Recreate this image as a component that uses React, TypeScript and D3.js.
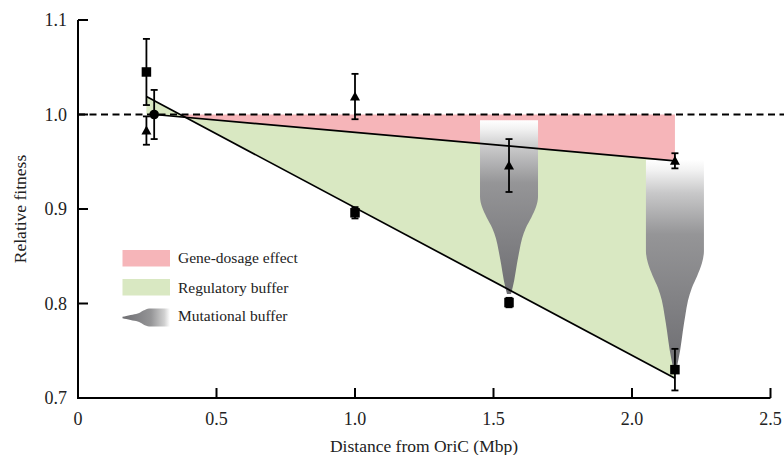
import React from "react";
import * as d3 from "d3";

// ---- data ----
const squareX = [0.247, 1.0, 1.556, 2.155];
const squareY = [1.045, 0.896, 0.801, 0.73];
const squareErr = [0.035, 0.006, 0.005, 0.022];

const triangleX = [0.247, 1.0, 1.556, 2.155];
const triangleY = [0.983, 1.019, 0.946, 0.951];
const triangleErr = [0.015, 0.024, 0.028, 0.008];

const circleX = [0.275];
const circleY = [1.0];
const circleErr = [0.026];

// fitted lines: [x0, y0, x1, y1]
const upperLine = [0.275, 1.0, 2.155, 0.951];
const lowerLine = [0.247, 1.019, 2.155, 0.721];

// mutational buffer "violins": center x, top value, bottom value
const violinX = [1.556, 2.155];
const violinTop = [0.994, 0.952];
const violinBottom = [0.81, 0.733];

const xTicks = [0, 0.5, 1.0, 1.5, 2.0, 2.5];
const xTickLabels = ["0", "0.5", "1.0", "1.5", "2.0", "2.5"];
const yTicks = [0.7, 0.8, 0.9, 1.0, 1.1];
const yTickLabels = ["0.7", "0.8", "0.9", "1.0", "1.1"];

const legendLabels = ["Gene-dosage effect", "Regulatory buffer", "Mutational buffer"];

const PINK = "#f6b5b9";
const GREEN = "#d9e8c2";
const FONT = "'Liberation Serif', 'DejaVu Serif', serif";

// violin profile: [fraction along height, half-width fraction]
const profile: [number, number][] = [
  [0, 1], [0.44, 1], [0.5, 0.93], [0.56, 0.77], [0.62, 0.58], [0.68, 0.45],
  [0.75, 0.36], [0.83, 0.27], [0.92, 0.18], [1, 0.07],
];

export default function App() {
  const W = 784, H = 455;
  const x = d3.scaleLinear().domain([0, 2.5]).range([78, 770.5]);
  const y = d3.scaleLinear().domain([0.7, 1.1]).range([398, 20]);

  const halfW = 29;

  const violinPath = (i: number) => {
    const cx = x(violinX[i]);
    const y0 = y(violinTop[i]);
    const y1 = y(violinBottom[i]);
    const area = d3
      .area<[number, number]>()
      .y((d) => y0 + d[0] * (y1 - y0))
      .x0((d) => cx - d[1] * halfW)
      .x1((d) => cx + d[1] * halfW)
      .curve(d3.curveMonotoneY);
    return area(profile) || "";
  };

  // legend icon (horizontal, tip on the left)
  const legX0 = 122.5, legX1 = 170, legCy = 317.5, legHalf = 9;
  const legendIcon = d3
    .area<[number, number]>()
    .x((d) => legX1 - d[0] * (legX1 - legX0))
    .y0((d) => legCy - d[1] * legHalf)
    .y1((d) => legCy + d[1] * legHalf)
    .curve(d3.curveMonotoneX)(profile.slice().reverse()) || "";

  const lineGen = d3.line<[number, number]>().x((d) => x(d[0])).y((d) => y(d[1]));

  const pinkPoly: [number, number][] = [
    [upperLine[0], 1.0],
    [upperLine[2], 1.0],
    [upperLine[2], upperLine[3]],
    [upperLine[0], upperLine[1]],
  ];
  const greenPoly: [number, number][] = [
    [lowerLine[0], lowerLine[1]],
    [lowerLine[2], lowerLine[3]],
    [upperLine[2], upperLine[3]],
    [upperLine[0], upperLine[1]],
    [lowerLine[0], 1.0],
  ];

  const errBar = (cx: number, v: number, e: number, key: string) => {
    const cap = 3.5;
    return (
      <g key={key} stroke="#000" strokeWidth={1.8}>
        <line x1={cx} x2={cx} y1={y(v + e)} y2={y(v - e)} />
        <line x1={cx - cap} x2={cx + cap} y1={y(v + e)} y2={y(v + e)} />
        <line x1={cx - cap} x2={cx + cap} y1={y(v - e)} y2={y(v - e)} />
      </g>
    );
  };

  const sq = 9.5;
  const tri = (cx: number, cy: number) => {
    const s = 5;
    return `M${cx},${cy - s}L${cx + s},${cy + s * 0.8}L${cx - s},${cy + s * 0.8}Z`;
  };

  return (
    <svg
      width={W}
      height={H}
      style={{ position: "absolute", left: 0, top: 0, background: "#fff" }}
      fontFamily={FONT}
    >
      <defs>
        <linearGradient id="vgrad" x1="0" y1="0" x2="0" y2="1">
          <stop offset="0" stopColor="#ffffff" />
          <stop offset="0.05" stopColor="#f2f2f2" />
          <stop offset="0.16" stopColor="#c8c8c9" />
          <stop offset="0.36" stopColor="#959597" />
          <stop offset="1" stopColor="#6e6e72" />
        </linearGradient>
        <linearGradient id="hgrad" x1="1" y1="0" x2="0" y2="0">
          <stop offset="0" stopColor="#ffffff" />
          <stop offset="0.12" stopColor="#d0d0d0" />
          <stop offset="0.4" stopColor="#959597" />
          <stop offset="1" stopColor="#6e6e72" />
        </linearGradient>
      </defs>

      {/* regions */}
      <path d={lineGen(pinkPoly) + "Z"} fill={PINK} />
      <path d={lineGen(greenPoly) + "Z"} fill={GREEN} />

      {/* violins */}
      {violinX.map((_, i) => (
        <path key={"v" + i} d={violinPath(i)} fill="url(#vgrad)" />
      ))}

      {/* dashed reference line */}
      <line
        x1={x(0)}
        x2={W}
        y1={y(1.0)}
        y2={y(1.0)}
        stroke="#000"
        strokeWidth={2}
        strokeDasharray="7 4.5"
      />

      {/* fit lines */}
      <path d={lineGen([[upperLine[0], upperLine[1]], [upperLine[2], upperLine[3]]]) || ""} stroke="#000" strokeWidth={1.7} fill="none" />
      <path d={lineGen([[lowerLine[0], lowerLine[1]], [lowerLine[2], lowerLine[3]]]) || ""} stroke="#000" strokeWidth={1.7} fill="none" />

      {/* error bars and markers */}
      {squareX.map((v, i) => errBar(x(v), squareY[i], squareErr[i], "se" + i))}
      {triangleX.map((v, i) => errBar(x(v), triangleY[i], triangleErr[i], "te" + i))}
      {circleX.map((v, i) => errBar(x(v), circleY[i], circleErr[i], "ce" + i))}
      {squareX.map((v, i) => (
        <rect key={"s" + i} x={x(v) - sq / 2} y={y(squareY[i]) - sq / 2} width={sq} height={sq} fill="#000" />
      ))}
      {triangleX.map((v, i) => (
        <path key={"t" + i} d={tri(x(v), y(triangleY[i]))} fill="#000" />
      ))}
      {circleX.map((v, i) => (
        <circle key={"c" + i} cx={x(v)} cy={y(circleY[i])} r={4.8} fill="#000" />
      ))}

      {/* axes */}
      <line x1={x(0)} x2={x(0)} y1={y(1.1)} y2={y(0.7)} stroke="#000" strokeWidth={2} />
      <line x1={x(0) - 1} x2={x(2.5)} y1={y(0.7)} y2={y(0.7)} stroke="#000" strokeWidth={2} />
      {yTicks.map((t, i) => (
        <g key={"yt" + i}>
          <line x1={x(0)} x2={x(0) + 10} y1={y(t)} y2={y(t)} stroke="#000" strokeWidth={2} />
          <text x={67} y={y(t)} dy="0.35em" textAnchor="end" fontSize={18} fill="#222">
            {yTickLabels[i]}
          </text>
        </g>
      ))}
      {xTicks.map((t, i) => (
        <g key={"xt" + i}>
          <line x1={x(t)} x2={x(t)} y1={y(0.7)} y2={y(0.7) - 10} stroke="#000" strokeWidth={2} />
          <text x={x(t)} y={425} textAnchor="middle" fontSize={18} fill="#222">
            {xTickLabels[i]}
          </text>
        </g>
      ))}
      <text x={424} y={452} textAnchor="middle" fontSize={17.5} fill="#222">
        Distance from OriC (Mbp)
      </text>
      <text
        transform={`translate(26,${(y(1.1) + y(0.7)) / 2}) rotate(-90)`}
        textAnchor="middle"
        fontSize={17.5}
        fill="#222"
      >
        Relative fitness
      </text>

      {/* legend */}
      <rect x={122.5} y={250} width={47.5} height={16.5} fill={PINK} />
      <rect x={122.5} y={279} width={47.5} height={16.5} fill={GREEN} />
      <path d={legendIcon} fill="url(#hgrad)" />
      <text x={178} y={263} fontSize={15.5} fill="#222">{legendLabels[0]}</text>
      <text x={178} y={292.5} fontSize={15.5} fill="#222">{legendLabels[1]}</text>
      <text x={178} y={321} fontSize={15.5} fill="#222">{legendLabels[2]}</text>
    </svg>
  );
}
